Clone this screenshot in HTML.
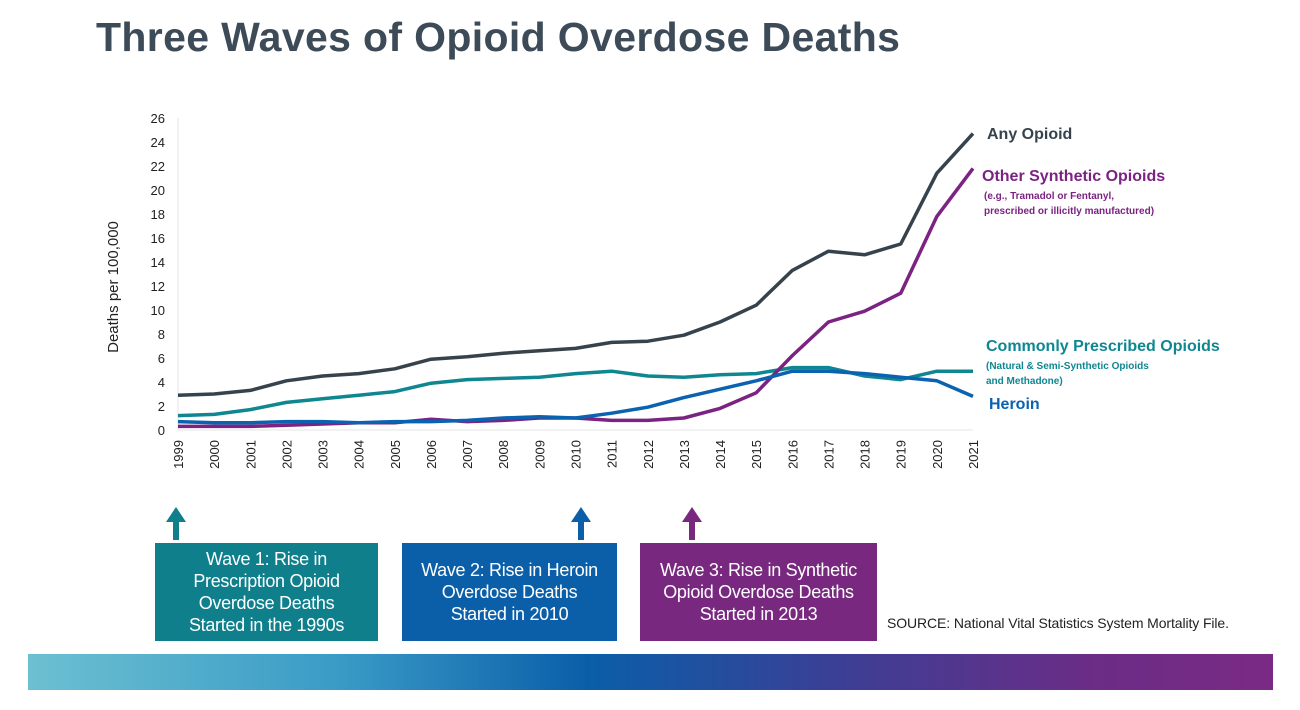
<!DOCTYPE html>
<html><head><meta charset="utf-8"><style>
body{margin:0;width:1300px;height:710px;background:#fff;font-family:"Liberation Sans",sans-serif;position:relative;overflow:hidden}
.box{position:absolute;color:#fff;font-size:18px;line-height:22px;text-align:center;display:flex;align-items:center;justify-content:center;top:543px;height:98px;letter-spacing:-0.3px}
</style></head><body>
<div style="position:absolute;left:96px;top:14px;font-size:41px;font-weight:bold;color:#3d4a57;letter-spacing:0.35px">Three Waves of Opioid Overdose Deaths</div>
<svg id="chart" width="1300" height="540" style="position:absolute;left:0;top:0"></svg>
<div class="box" style="left:155px;width:223px;background:#0f7f8c">Wave 1: Rise in<br>Prescription Opioid<br>Overdose Deaths<br>Started in the 1990s</div>
<div class="box" style="left:402px;width:215px;background:#0a5fa8">Wave 2: Rise in Heroin<br>Overdose Deaths<br>Started in 2010</div>
<div class="box" style="left:640px;width:237px;background:#78287f">Wave 3: Rise in Synthetic<br>Opioid Overdose Deaths<br>Started in 2013</div>
<div style="position:absolute;left:887px;top:615px;font-size:14px;color:#222;letter-spacing:-0.1px">SOURCE: National Vital Statistics System Mortality File.</div>
<div style="position:absolute;left:28px;top:654px;width:1245px;height:36px;background:linear-gradient(90deg,#6cc0d1 0%,#3a9bc6 25%,#0a5ea8 45%,#3b3f95 65%,#6a2d86 85%,#7a2a84 100%)"></div>
<script>
const years=[1999,2000,2001,2002,2003,2004,2005,2006,2007,2008,2009,2010,2011,2012,2013,2014,2015,2016,2017,2018,2019,2020,2021];
const anyOpioid=[2.9,3.0,3.3,4.1,4.5,4.7,5.1,5.9,6.1,6.4,6.6,6.8,7.3,7.4,7.9,9.0,10.4,13.3,14.9,14.6,15.5,21.4,24.7];
const prescribed=[1.2,1.3,1.7,2.3,2.6,2.9,3.2,3.9,4.2,4.3,4.4,4.7,4.9,4.5,4.4,4.6,4.7,5.2,5.2,4.5,4.2,4.9,4.9];
const heroin=[0.7,0.6,0.6,0.7,0.7,0.6,0.7,0.7,0.8,1.0,1.1,1.0,1.4,1.9,2.7,3.4,4.1,4.9,4.9,4.7,4.4,4.1,2.8];
const synthetic=[0.3,0.3,0.3,0.4,0.5,0.6,0.6,0.9,0.7,0.8,1.0,1.0,0.8,0.8,1.0,1.8,3.1,6.2,9.0,9.9,11.4,17.8,21.8];
const yTicks=[0,2,4,6,8,10,12,14,16,18,20,22,24,26];
const NS="http://www.w3.org/2000/svg";
const svg=document.getElementById('chart');
const x=i=>178+i*(795/22);
const y=v=>430-v*12;
function mk(t,a){const e=document.createElementNS(NS,t);for(const k in a)e.setAttribute(k,a[k]);svg.appendChild(e);return e;}
const ax=mk('line',{x1:178,y1:118,x2:178,y2:430,stroke:'#e6e6e6'});


const bx=mk('line',{x1:178,y1:430,x2:973,y2:430,stroke:'#e6e6e6'});


yTicks.forEach(v=>{const t=mk('text',{x:165,y:y(v)+5,'text-anchor':'end','font-size':13,fill:'#222'});t.textContent=v;

});
years.forEach((yr,i)=>{const t=mk('text',{x:0,y:0,'text-anchor':'end','font-size':13,fill:'#222',transform:`translate(${x(i)+5},440) rotate(-90)`});t.textContent=yr;

});
const yt=mk('text',{x:0,y:0,'text-anchor':'middle','font-size':15,fill:'#222',transform:'translate(118,287) rotate(-90)'});yt.textContent='Deaths per 100,000';


const series=[[prescribed,'#0f8791','prescribed-line'],[synthetic,'#7b2282','synthetic-line'],[heroin,'#0a62b0','heroin-line'],[anyOpioid,'#36434d','any-opioid-line']];
series.forEach(([d,c,n])=>{const p=mk('polyline',{points:d.map((v,i)=>x(i)+','+y(v)).join(' '),fill:'none',stroke:c,'stroke-width':3.5,'stroke-linejoin':'round'});

});
function lab(xx,yy,s,fs,c,w,n){const t=mk('text',{x:xx,y:yy,'font-size':fs,fill:c,'font-weight':w});t.textContent=s;

}
lab(987,139,'Any Opioid',16,'#36434d','bold','label-any-opioid');
lab(982,181,'Other Synthetic Opioids',16,'#7b2282','bold','label-synthetic');
lab(984,199,'(e.g., Tramadol or Fentanyl,',10,'#7b2282','bold','label-synthetic-note');
lab(984,214,'prescribed or illicitly manufactured)',10,'#7b2282','bold','label-synthetic-note-2');
lab(986,351,'Commonly Prescribed Opioids',16,'#0f8791','bold','label-prescribed');
lab(986,369,'(Natural & Semi-Synthetic Opioids',10,'#0f8791','bold','label-prescribed-note');
lab(986,384,'and Methadone)',10,'#0f8791','bold','label-prescribed-note-2');
lab(989,409,'Heroin',16,'#0a62b0','bold','label-heroin');
[[176,'#0f7f8c','wave-1-arrow'],[581,'#0a5fa8','wave-2-arrow'],[692,'#78287f','wave-3-arrow']].forEach(([ax2,c,n])=>{
const g=mk('path',{d:`M${ax2-3} 543 V522 H${ax2-10} L${ax2} 507 L${ax2+10} 522 H${ax2+3} V543 Z`,fill:c});

});
</script>
</body></html>
